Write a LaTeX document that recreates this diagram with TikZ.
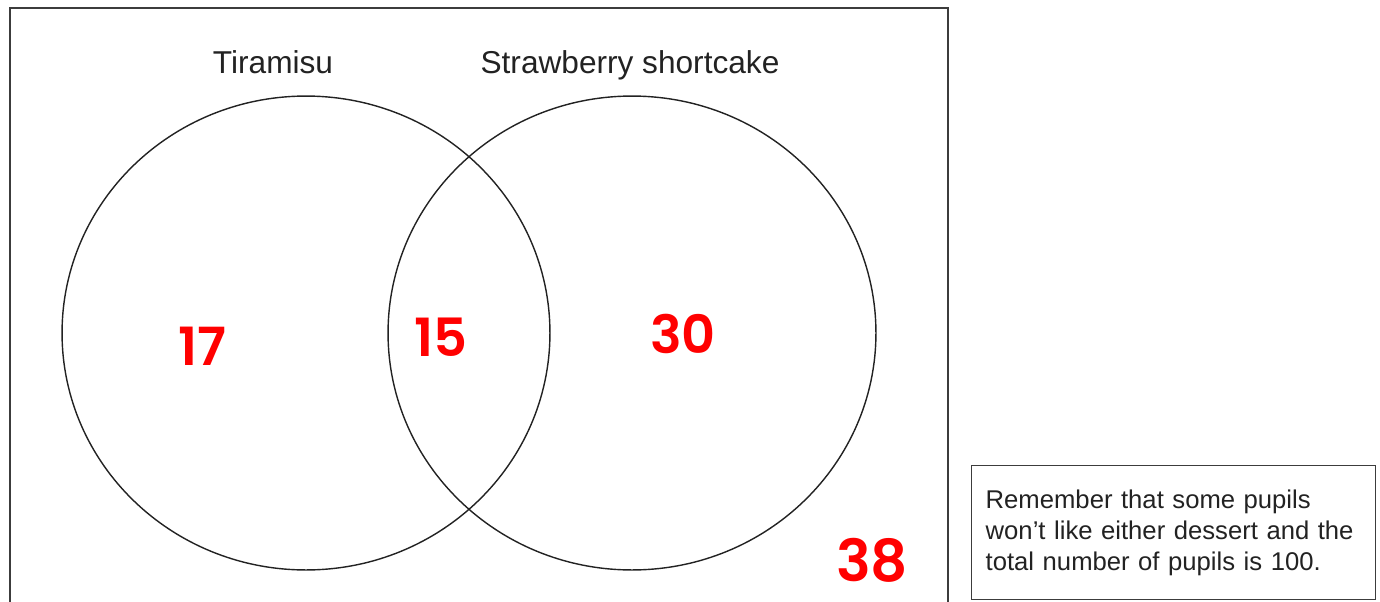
\documentclass[tikz,border=0pt]{standalone}
\usepackage{fontspec}
\setmainfont{Liberation Sans}
\IfFontExistsTF{Poppins SemiBold}
  {\newfontfamily\numfont{Poppins SemiBold}}
  {\newfontfamily\numfont{Poppins}[UprightFont=*,BoldFont=* Bold]\def\numfontb{\numfont\bfseries}}
\providecommand\numfontb{\numfont}
\usetikzlibrary{shapes.geometric}
\definecolor{ink}{RGB}{34,34,34}
\definecolor{frame}{RGB}{60,60,60}
\definecolor{count}{RGB}{255,0,0}

\begin{document}
\begin{tikzpicture}[
  x=0.02cm, y=-0.02cm,
  set/.style={draw=ink,ellipse,minimum width=9.76cm,minimum height=9.48cm,inner sep=0pt,line width=0.8pt},
  title/.style={font=\fontsize{18}{22}\selectfont,text=ink,anchor=base},
  num/.style={font=\numfontb\fontsize{30}{36}\selectfont,text=count,inner sep=0pt},
  note/.style={draw=frame,line width=0.8pt,anchor=north west,align=left,text width=7.52cm,minimum width=8.08cm,minimum height=2.68cm,inner xsep=0.28cm,font=\fontsize{14.6}{17.8}\selectfont,text=ink}
]
\useasboundingbox (0,0) rectangle (1380,602);
% outer frame, open at the bottom
\draw[frame,line width=1.1pt] (10,620) -- (10,8) -- (948,8) -- (948,620);
\node[set] (tira) at (306,333) {};
\node[set] (straw) at (632,333) {};
\node[title] (tiralbl) at (273,73) {Tiramisu};
\node[title] (strawlbl) at (630,73) {Strawberry shortcake};
% counts
\node[num] (onlyt) at (202,346) {17};
\node[num] (both) at (441,337) {15};
\node[num] (onlys) at (683,334) {30};
\node[num,font=\numfontb\fontsize{33}{40}\selectfont] (neither) at (872,560) {38};
\node[note] (hint) at (971,465) {Remember that some pupils\\won’t like either dessert and the\\total number of pupils is 100.};
\end{tikzpicture}
\end{document}
